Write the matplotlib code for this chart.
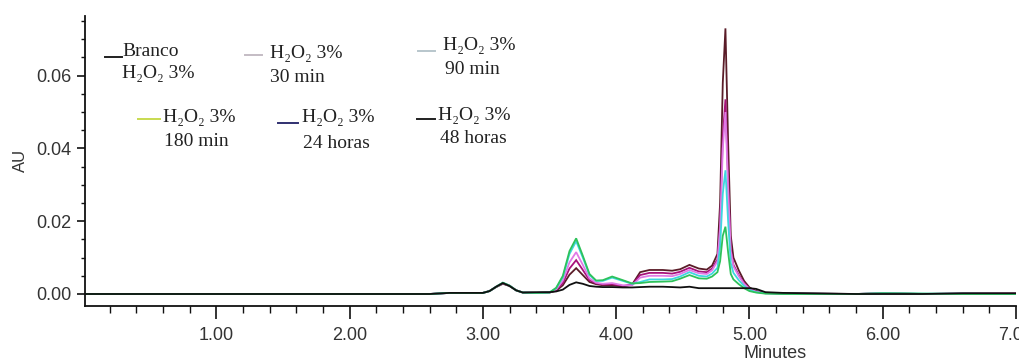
import matplotlib
matplotlib.use("Agg")
import matplotlib.pyplot as plt
from matplotlib.lines import Line2D
from matplotlib.ticker import MultipleLocator, FormatStrFormatter

# ---------------- data ----------------
time_min = [0.00, 2.60, 2.75, 2.90, 3.00, 3.05, 3.10, 3.15, 3.20, 3.25,
            3.30, 3.40, 3.50, 3.55, 3.60, 3.65, 3.70, 3.75, 3.80, 3.85,
            3.90, 3.97, 4.05, 4.12, 4.18, 4.25, 4.35, 4.42, 4.48, 4.55,
            4.62, 4.68, 4.72, 4.76, 4.78, 4.80, 4.82, 4.84, 4.86, 4.88,
            4.92, 4.96, 5.00, 5.05, 5.12, 5.25, 5.80, 6.00, 6.30, 6.60, 7.00]

au_30min = [0, 0, 0.0003, 0.0003, 0.0003, 0.0008, 0.0019, 0.0028, 0.0022, 0.0010,
            0.0004, 0.0003, 0.0004, 0.0009, 0.0024, 0.0053, 0.0071, 0.0052, 0.0033, 0.0027,
            0.0024, 0.0024, 0.0021, 0.0026, 0.0060, 0.0066, 0.0066, 0.0064, 0.0068, 0.0080,
            0.0070, 0.0067, 0.0078, 0.0110, 0.0250, 0.0580, 0.0730, 0.0420, 0.0160, 0.0100,
            0.0065, 0.0036, 0.0018, 0.0008, 0.0003, 0.0002, 0.0, 0.0002, 0.0, 0.0001, 0.0001]

au_90min = [0, 0, 0.0003, 0.0003, 0.0003, 0.0008, 0.0020, 0.0030, 0.0023, 0.0010,
            0.0004, 0.0003, 0.0004, 0.0011, 0.0030, 0.0070, 0.0093, 0.0066, 0.0038, 0.0029,
            0.0026, 0.0027, 0.0022, 0.0025, 0.0052, 0.0058, 0.0058, 0.0056, 0.0061, 0.0072,
            0.0062, 0.0060, 0.0070, 0.0095, 0.0190, 0.0430, 0.0535, 0.0310, 0.0125, 0.0080,
            0.0052, 0.0030, 0.0015, 0.0007, 0.0003, 0.0001, 0.0, 0.0002, 0.0, 0.0001, 0.0001]

au_180min = [0, 0, 0.0003, 0.0003, 0.0003, 0.0008, 0.0020, 0.0030, 0.0023, 0.0010,
             0.0004, 0.0003, 0.0004, 0.0013, 0.0037, 0.0087, 0.0115, 0.0080, 0.0043, 0.0031,
             0.0028, 0.0030, 0.0024, 0.0024, 0.0045, 0.0050, 0.0050, 0.0049, 0.0055, 0.0066,
             0.0057, 0.0055, 0.0065, 0.0090, 0.0180, 0.0400, 0.0500, 0.0290, 0.0118, 0.0076,
             0.0049, 0.0028, 0.0014, 0.0006, 0.0002, 0.0001, 0.0, 0.0002, 0.0, 0.0001, 0.0001]

au_24h = [0, 0, 0.0003, 0.0003, 0.0003, 0.0008, 0.0020, 0.0031, 0.0023, 0.0010,
          0.0004, 0.0003, 0.0004, 0.0016, 0.0046, 0.0110, 0.0145, 0.0100, 0.0052, 0.0036,
          0.0036, 0.0045, 0.0036, 0.0028, 0.0033, 0.0040, 0.0040, 0.0041, 0.0048, 0.0060,
          0.0050, 0.0048, 0.0056, 0.0072, 0.0130, 0.0275, 0.0340, 0.0200, 0.0085, 0.0058,
          0.0038, 0.0022, 0.0011, 0.0005, 0.0002, 0.0001, 0.0, 0.0002, 0.0001, 0.0001, 0.0]

au_48h = [0, 0, 0.0003, 0.0003, 0.0003, 0.0008, 0.0020, 0.0031, 0.0023, 0.0010,
          0.0004, 0.0003, 0.0004, 0.0017, 0.0050, 0.0118, 0.0153, 0.0105, 0.0055, 0.0037,
          0.0038, 0.0048, 0.0038, 0.0029, 0.0030, 0.0033, 0.0034, 0.0035, 0.0042, 0.0052,
          0.0043, 0.0042, 0.0048, 0.0060, 0.0090, 0.0160, 0.0185, 0.0115, 0.0055, 0.0040,
          0.0027, 0.0016, 0.0008, 0.0004, 0.0001, 0.0, 0.0, 0.0002, 0.0001, 0.0, 0.0]

au_branco = [0, 0, 0.0003, 0.0003, 0.0003, 0.0008, 0.0020, 0.0030, 0.0022, 0.0010,
             0.0004, 0.0005, 0.0005, 0.0007, 0.0012, 0.0025, 0.0032, 0.0028, 0.0022, 0.0020,
             0.0019, 0.0019, 0.0018, 0.0018, 0.0019, 0.0020, 0.0020, 0.0019, 0.0018, 0.0020,
             0.0016, 0.0016, 0.0016, 0.0016, 0.0016, 0.0016, 0.0016, 0.0016, 0.0016, 0.0016,
             0.0016, 0.0016, 0.0016, 0.0014, 0.0005, 0.0003, 0.0, 0.0, 0.0, 0.0002, 0.0002]

series_values = [au_30min, au_90min, au_180min, au_24h, au_48h, au_branco]
series_colors = ["#5a1c28", "#a8127a", "#e07ae6", "#3ed6e0", "#2ec25a", "#101010"]

legend_first = ["Branco", "H\u2082O\u2082 3%", "H\u2082O\u2082 3%",
                "H\u2082O\u2082 3%", "H\u2082O\u2082 3%", "H\u2082O\u2082 3%"]
legend_second = ["H\u2082O\u2082 3%", "30 min", "90 min", "180 min", "24 horas", "48 horas"]
legend_sample_colors = ["#202020", "#c4bcc4", "#b8c6cc", "#c8da50", "#303070", "#202020"]

x_ticks = [1, 2, 3, 4, 5, 6, 7]
y_ticks = [0.00, 0.02, 0.04, 0.06]

# ---------------- figure ----------------
W, H = 1019, 363
fig = plt.figure(figsize=(W / 100, H / 100), dpi=100)
fig.patch.set_facecolor("white")

ax_l, ax_r, ax_t, ax_b = 85, 1016, 16, 306
ax = fig.add_axes([ax_l / W, 1 - ax_b / H, (ax_r - ax_l) / W, (ax_b - ax_t) / H])

for vals, col in zip(series_values, series_colors):
    ax.plot(time_min, vals, color=col, lw=1.3, solid_joinstyle="miter")

ax.set_xlim(0.015, 7.0)
ax.set_ylim(-0.0033, 0.0764)

for s in ["top", "right"]:
    ax.spines[s].set_visible(False)
for s in ["left", "bottom"]:
    ax.spines[s].set_linewidth(1.3)
    ax.spines[s].set_color("#111111")

ax.set_xticks(x_ticks)
ax.xaxis.set_major_formatter(FormatStrFormatter("%.2f"))
ax.xaxis.set_minor_locator(MultipleLocator(0.2))
ax.set_yticks(y_ticks)
ax.yaxis.set_major_formatter(FormatStrFormatter("%.2f"))
ax.yaxis.set_minor_locator(MultipleLocator(0.005))

ax.tick_params(axis="x", which="major", length=9, width=1.2, pad=6, labelsize=13,
               colors="#111111", labelcolor="#333333")
ax.tick_params(axis="x", which="minor", length=5, width=1.0, colors="#111111")
ax.tick_params(axis="y", which="major", length=6, width=1.2, pad=4, labelsize=13,
               colors="#111111", labelcolor="#333333")
ax.tick_params(axis="y", which="minor", length=3, width=1.0, colors="#111111")
for lbl in ax.get_xticklabels() + ax.get_yticklabels():
    lbl.set_family("Liberation Sans")

ax.set_ylabel("AU", fontsize=12, family="Liberation Sans", color="#333333",
              va="center")
ax.yaxis.set_label_coords((20 - ax_l) / (ax_r - ax_l), (ax_b - 160) / (ax_b - ax_t))
ax.set_xlabel("Minutes", fontsize=13, family="Liberation Sans", color="#333333",
              va="center")
ax.xaxis.set_label_coords((775 - ax_l) / (ax_r - ax_l), (ax_b - 353) / (ax_b - ax_t))

# ---------------- legend (text block as in the reference) ----------------
legend_layout = [
    # (line x0, line x1, line y, text x, row1 y, row2 x, row2 y) in pixels
    (105, 122, 57, 122, 52, 122, 73),
    (245, 262, 55, 270, 53, 270, 77),
    (418, 435, 51, 443, 45, 445, 70),
    (138, 160, 119, 163, 117, 164, 142),
    (278, 298, 123, 302, 118, 303, 143),
    (417, 435, 119, 438, 115, 440, 138),
]
serif = ["Liberation Serif", "DejaVu Serif"]
for (lx0, lx1, ly, tx, ty1, tx2, ty2), t1, t2, c in zip(
        legend_layout, legend_first, legend_second, legend_sample_colors):
    fig.add_artist(Line2D([lx0 / W, lx1 / W], [1 - ly / H, 1 - ly / H],
                          transform=fig.transFigure, color=c, lw=1.4))
    fig.text(tx / W, 1 - ty1 / H, t1, family=serif, fontsize=14, va="center",
             ha="left", color="#222222")
    fig.text(tx2 / W, 1 - ty2 / H, t2, family=serif, fontsize=14, va="center",
             ha="left", color="#222222")

fig.savefig("out.png", dpi=100, facecolor="white")
